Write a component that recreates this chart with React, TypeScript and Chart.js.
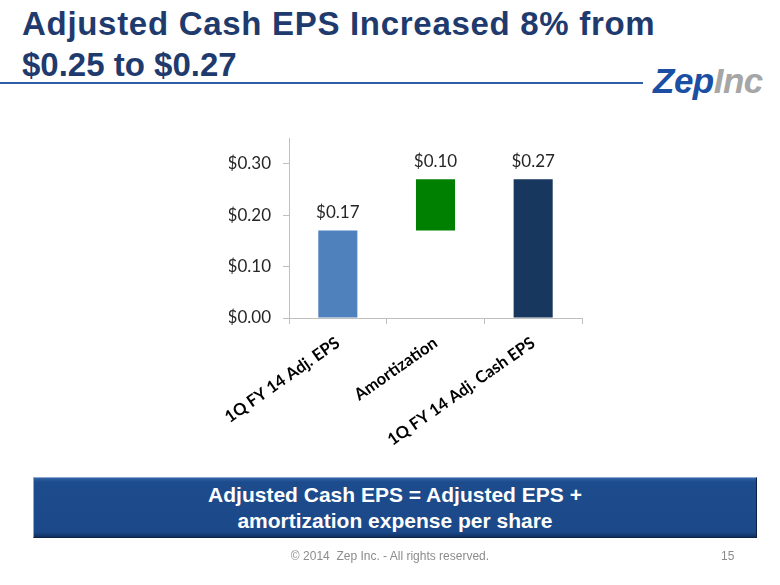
import React, { useEffect, useRef } from "react";
import { Chart, registerables } from "chart.js";

Chart.register(...registerables);

const categories = ["1Q FY 14 Adj. EPS", "Amortization", "1Q FY 14 Adj. Cash EPS"];
const values = [0.17, 0.10, 0.27];
const bases = [0, 0.17, 0];
const barColors = ["#4F81BD", "#008000", "#17375E"];
const yTicks = [0, 0.1, 0.2, 0.3];
const yMax = 0.35;

const valueLabels = {
  id: "valueLabels",
  afterDatasetsDraw(chart: any) {
    const ctx = chart.ctx;
    const meta = chart.getDatasetMeta(0);
    ctx.save();
    ctx.font = "17px Lato, 'Noto Sans', sans-serif";
    ctx.fillStyle = "#262626";
    ctx.textAlign = "center";
    ctx.textBaseline = "middle";
    meta.data.forEach((el: any, i: number) => {
      const top = Math.min(el.y, el.base);
      ctx.fillText("$" + values[i].toFixed(2), el.x, top - 18);
    });
    ctx.restore();
  },
};

export default function App() {
  const ref = useRef<HTMLCanvasElement | null>(null);

  useEffect(() => {
    if (!ref.current) return;
    const data = values.map((v, i) => [bases[i], +(bases[i] + v).toFixed(4)]);
    const chart = new Chart(ref.current, {
      type: "bar",
      data: {
        labels: categories,
        datasets: [
          {
            data: data as any,
            backgroundColor: barColors,
            borderWidth: 0,
            barPercentage: 0.4,
            categoryPercentage: 1,
          },
        ],
      },
      options: {
        animation: false,
        responsive: false,
        maintainAspectRatio: false,
        layout: { padding: { left: 229, top: 138, right: 198, bottom: 117 } },
        plugins: {
          legend: { display: false },
          tooltip: { enabled: false },
          title: { display: false },
        },
        scales: {
          x: {
            offset: true,
            grid: {
              display: true,
              offset: true,
              drawOnChartArea: false,
              drawTicks: true,
              tickLength: 6,
              color: "#BFBFBF",
            },
            border: { display: true, color: "#BFBFBF", width: 1 },
            ticks: {
              minRotation: 35,
              maxRotation: 35,
              autoSkip: false,
              padding: 9,
              color: "#000000",
              font: { family: "Lato, 'Noto Sans', sans-serif", size: 16.5, weight: "bold" },
            },
            afterFit: (s: any) => {
              s.height = 150;
            },
          },
          y: {
            min: 0,
            max: yMax,
            grid: {
              display: true,
              drawOnChartArea: false,
              drawTicks: true,
              tickLength: 6,
              color: "#BFBFBF",
            },
            border: { display: true, color: "#BFBFBF", width: 1 },
            ticks: {
              stepSize: 0.1,
              padding: 12,
              color: "#262626",
              font: { family: "Lato, 'Noto Sans', sans-serif", size: 17 },
              callback: (v: any) => "$" + Number(v).toFixed(2),
            },
            afterBuildTicks: (s: any) => {
              s.ticks = yTicks.map((v) => ({ value: v }));
            },
            afterFit: (s: any) => {
              s.width = 60;
            },
          },
        },
      },
      plugins: [valueLabels],
    });
    return () => chart.destroy();
  }, []);

  const arial = "'Liberation Sans', Arial, sans-serif";

  return (
    <div
      style={{
        position: "fixed",
        left: 0,
        top: 0,
        width: 780,
        height: 585,
        background: "#ffffff",
        overflow: "hidden",
        fontFamily: arial,
      }}
    >
      <div
        style={{
          position: "absolute",
          left: 22,
          top: 3,
          fontSize: 33,
          fontWeight: "bold",
          lineHeight: "41px",
          color: "#1F3B6E",
          whiteSpace: "nowrap",
        }}
      >
        <span style={{ letterSpacing: 0.7 }}>Adjusted Cash EPS Increased 8% from</span>
        <br />
        $0.25 to $0.27
      </div>
      <div
        style={{
          position: "absolute",
          left: 0,
          top: 82,
          width: 643,
          height: 2,
          background: "#2E5EA8",
        }}
      />
      <div
        style={{
          position: "absolute",
          left: 653,
          top: 61,
          fontSize: 35,
          fontStyle: "italic",
          fontWeight: "bold",
          letterSpacing: -0.5,
          whiteSpace: "nowrap",
          lineHeight: "40px",
        }}
      >
        <span style={{ color: "#1A4FA3" }}>Zep</span>
        <span style={{ color: "#A6A6A6" }}>Inc</span>
      </div>
      <canvas
        ref={ref}
        width={780}
        height={585}
        style={{ position: "absolute", left: 0, top: 0, width: 780, height: 585 }}
      />
      <div
        style={{
          position: "absolute",
          left: 33,
          top: 477,
          width: 724,
          height: 61,
          boxSizing: "border-box",
          background: "linear-gradient(#2F62A6 0px, #1D4C8C 4px, #1B4888 92%, #0F2F5E 100%)",
          border: "1px solid #8FA8CC",
          borderBottomColor: "#0B2447",
          borderRightColor: "#0B2447",
          color: "#ffffff",
          fontWeight: "bold",
          fontSize: 21,
          lineHeight: "26px",
          textAlign: "center",
          paddingTop: 4,
        }}
      >
        Adjusted Cash EPS = Adjusted EPS +
        <br />
        amortization expense per share
      </div>
      <div
        style={{
          position: "absolute",
          left: 0,
          width: 780,
          top: 549,
          textAlign: "center",
          fontSize: 12,
          color: "#8C8C8C",
        }}
      >
        © 2014&nbsp; Zep Inc. - All rights reserved.
      </div>
      <div
        style={{
          position: "absolute",
          left: 721,
          top: 549,
          fontSize: 12,
          color: "#8C8C8C",
        }}
      >
        15
      </div>
    </div>
  );
}
